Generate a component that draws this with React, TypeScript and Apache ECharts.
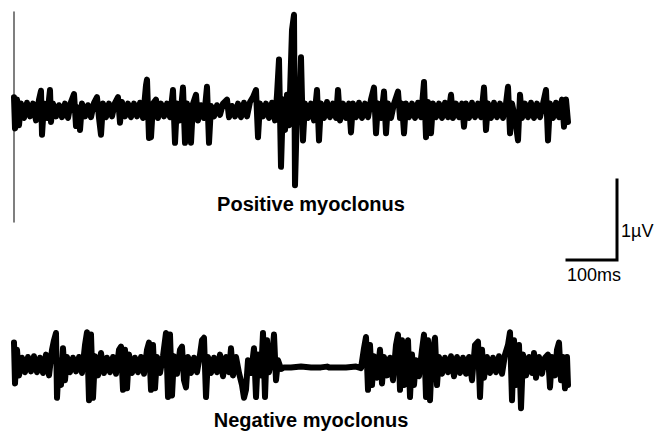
import React, { useEffect, useRef } from "react";
import * as echarts from "echarts";

// Positive myoclonus trace: time (ms) and amplitude (µV)
const positiveTime = [
  0, 2, 6, 10, 14, 20, 26, 32, 38, 44, 50, 54, 56, 60, 66, 72, 74, 78, 84, 90, 96, 102, 108, 114, 120, 124, 128, 132, 136, 142, 148, 154, 160, 166, 170, 174, 178, 184, 190, 196, 202, 208, 212, 216, 222, 228, 234, 240, 246, 252, 258, 264, 266, 270, 274, 278, 284, 288, 294, 300, 306, 312, 318, 322, 326, 332, 338, 342, 346, 350, 354, 358, 364, 368, 374, 380, 386, 390, 394, 400, 406, 412, 418, 426, 430, 436, 442, 448, 454, 460, 466, 472, 478, 484, 488, 492, 498, 504, 510, 516, 522, 526, 530, 534, 538, 542, 546, 550, 556, 560, 562, 566, 570, 574, 578, 582, 588, 594, 600, 606, 610, 614, 620, 626, 632, 638, 644, 648, 652, 658, 664, 670, 674, 678, 684, 690, 696, 702, 708, 714, 720, 724, 728, 734, 740, 744, 748, 754, 760, 768, 772, 776, 780, 784, 790, 796, 802, 808, 814, 820, 824, 828, 834, 838, 844, 850, 856, 862, 868, 874, 878, 884, 890, 896, 900, 904, 910, 916, 922, 928, 934, 940, 944, 948, 954, 960, 966, 972, 978, 984, 988, 992, 996, 1002, 1008, 1012, 1016, 1022, 1028, 1034, 1040, 1046, 1052, 1058, 1064, 1068, 1072, 1078, 1084, 1090, 1096, 1100, 1104, 1108,
];
const positiveAmp = [
  0.16, -0.23, 0.13, -0.19, 0.08, -0.1, 0.09, -0.08, 0.08, -0.13, 0.13, 0.24, -0.31, 0.08, -0.1, 0.25, -0.15, 0.08, -0.08, 0.06, -0.09, 0.08, -0.1, 0.1, 0.2, -0.2, 0.03, -0.25, 0.08, -0.08, 0.06, -0.09, 0.09, 0.16, -0.1, -0.31, 0.08, -0.09, 0.08, -0.08, 0.09, 0.16, -0.16, 0.1, -0.08, 0.08, -0.09, 0.08, -0.08, 0.09, -0.1, 0.31, 0.38, -0.35, -0.34, 0.08, 0.13, -0.1, 0.08, -0.08, 0.08, -0.09, 0.25, -0.41, 0.08, -0.13, 0.28, -0.41, 0.08, -0.1, -0.41, 0.08, 0.19, -0.13, 0.06, -0.1, 0.29, -0.41, 0.05, -0.08, 0.06, -0.06, 0.08, 0.13, -0.09, 0.05, -0.08, 0.08, -0.09, 0.09, -0.08, 0.1, 0.16, 0.25, -0.34, 0.08, -0.08, 0.08, -0.1, 0.09, -0.13, 0.19, 0.63, -0.71, 0.13, -0.25, 0.19, -0.19, 1.0, 1.19, -0.94, 0, -0.13, 0.66, -0.38, 0.08, -0.1, 0.08, -0.13, 0.25, -0.38, 0.08, -0.1, 0.1, -0.09, 0.08, -0.1, 0.25, -0.13, 0.08, -0.1, 0.08, -0.28, 0.08, -0.09, 0.09, -0.1, 0.08, -0.09, 0.13, 0.28, -0.29, 0.08, -0.1, 0.23, -0.29, 0.08, -0.1, 0.08, 0.23, -0.1, 0.08, -0.29, 0.08, -0.09, 0.08, -0.1, 0.09, -0.09, 0.35, -0.34, 0.1, -0.29, 0.08, -0.09, 0.08, -0.1, 0.09, -0.09, 0.19, -0.1, 0.08, -0.09, 0.08, -0.21, 0.08, -0.1, 0.09, -0.09, 0.08, -0.09, 0.28, -0.25, 0.08, -0.1, 0.09, -0.09, 0.08, -0.1, 0.08, 0.29, -0.29, 0.08, -0.1, -0.38, 0.19, -0.1, 0.08, -0.09, 0.09, -0.1, 0.08, -0.09, 0.08, 0.25, -0.38, 0.08, -0.1, 0.09, -0.09, 0.13, -0.21, 0.13, -0.15,
];

// Negative myoclonus trace: time (ms) and amplitude (µV)
const negativeTime = [
  0, 2, 6, 10, 16, 22, 28, 34, 40, 46, 52, 58, 64, 70, 76, 80, 84, 86, 90, 94, 98, 102, 106, 112, 118, 124, 130, 136, 142, 146, 150, 154, 158, 162, 168, 174, 180, 186, 192, 198, 204, 210, 214, 218, 222, 226, 230, 236, 242, 248, 254, 260, 266, 270, 274, 278, 282, 286, 292, 298, 304, 308, 312, 316, 320, 326, 332, 336, 340, 344, 348, 354, 360, 366, 372, 376, 380, 384, 388, 394, 400, 406, 412, 418, 424, 430, 434, 438, 444, 450, 456, 460, 464, 468, 474, 480, 484, 488, 494, 498, 502, 506, 510, 516, 520, 524, 528, 534, 540, 554, 574, 594, 614, 626, 630, 644, 664, 684, 694, 700, 704, 708, 712, 716, 720, 726, 732, 736, 740, 746, 752, 758, 764, 768, 772, 776, 780, 784, 788, 792, 796, 800, 804, 810, 816, 820, 824, 828, 832, 836, 842, 846, 850, 856, 862, 868, 874, 880, 886, 892, 898, 904, 910, 916, 922, 928, 932, 936, 940, 946, 952, 958, 964, 970, 976, 982, 988, 992, 996, 1000, 1004, 1010, 1014, 1018, 1024, 1030, 1036, 1040, 1044, 1050, 1056, 1062, 1068, 1072, 1076, 1082, 1086, 1090, 1094, 1098, 1102, 1106, 1108,
];
const negativeAmp = [
  0.28, -0.23, 0.19, -0.13, 0.09, -0.09, 0.1, -0.08, 0.11, -0.09, 0.09, -0.1, 0.13, -0.13, 0.19, 0.31, 0.4, -0.41, 0.06, -0.25, 0.21, -0.19, 0.1, -0.09, 0.09, -0.08, 0.1, -0.1, 0.25, 0.41, -0.44, 0.38, -0.41, 0.11, -0.13, 0.15, -0.1, 0.09, -0.09, 0.1, -0.11, 0.19, 0.23, -0.31, 0.19, -0.29, 0.13, -0.1, 0.09, -0.09, 0.1, -0.11, 0.19, 0.28, -0.31, 0.25, -0.29, 0.1, -0.1, 0.11, 0.4, -0.4, 0.38, -0.38, 0.11, -0.11, 0.19, 0.23, -0.19, -0.28, 0.1, -0.1, 0.09, -0.09, 0.13, 0.31, 0.34, -0.4, 0.1, -0.1, 0.09, -0.09, 0.13, -0.14, 0.1, -0.09, 0.21, -0.13, 0.1, -0.1, -0.25, -0.41, -0.31, 0.06, -0.1, 0.21, -0.4, 0.13, -0.13, 0.4, -0.4, 0.31, -0.09, 0.1, 0.38, -0.19, 0.06, -0.05, -0.03, -0.03, -0.02, -0.03, -0.03, -0.02, -0.03, -0.03, -0.03, -0.02, -0.04, 0.21, 0.35, -0.31, 0.25, -0.25, 0.11, -0.16, 0.19, -0.23, 0.1, -0.13, 0.09, -0.19, 0.25, 0.38, -0.31, 0.31, -0.25, 0.16, 0.31, -0.4, 0.13, -0.25, 0.06, -0.14, 0.19, 0.38, -0.4, 0.31, -0.44, 0.13, 0.34, -0.25, 0.1, -0.11, 0.09, -0.09, 0.11, -0.14, 0.1, -0.1, 0.09, -0.11, 0.1, -0.19, 0.25, 0.29, -0.4, 0.19, -0.16, 0.1, -0.1, 0.09, -0.09, 0.11, -0.11, 0.13, 0.25, 0.41, -0.44, 0.31, -0.25, 0.25, -0.54, 0.13, -0.13, 0.1, -0.1, 0.15, -0.16, 0.1, -0.11, 0.09, 0.13, -0.28, 0.1, -0.13, 0.19, 0.28, -0.19, 0.1, -0.29, 0.1, -0.25,
];

// Calibration bar: 100 ms horizontally, 1 µV vertically
const scaleTime = [0, 100, 100];
const scaleAmp = [0, 0, 1];

const titles = ["Positive myoclonus", "Negative myoclonus"];
const scaleLabels = ["1µV", "100ms"];

const pairs = (xs: number[], ys: number[]) => xs.map((x, i) => [x, ys[i]]);

const FONT = "'Liberation Sans', Arial, sans-serif";

export default function App() {
  const ref = useRef<HTMLDivElement>(null);
  useEffect(() => {
    document.body.style.margin = "0";
    if (!ref.current) return;
    const chart = echarts.init(ref.current, undefined, { renderer: "svg" });
    const hiddenAxis = {
      show: true,
      axisLine: { show: false },
      axisTick: { show: false },
      axisLabel: { show: false },
      splitLine: { show: false },
    };
    const traceStyle = {
      color: "#000",
      width: 6,
      cap: "round" as const,
      join: "round" as const,
    };
    chart.setOption({
      animation: false,
      backgroundColor: "#fff",
      grid: [
        { left: 14, top: 12, width: 554, height: 210 },
        { left: 14, top: 300, width: 554, height: 130 },
        { left: 567, top: 180, width: 50, height: 80 },
      ],
      xAxis: [
        { type: "value", gridIndex: 0, min: 0, max: 1108, ...hiddenAxis },
        { type: "value", gridIndex: 1, min: 0, max: 1108, ...hiddenAxis },
        { type: "value", gridIndex: 2, min: 0, max: 100, ...hiddenAxis },
      ],
      yAxis: [
        {
          type: "value",
          gridIndex: 0,
          min: -1.4,
          max: 1.225,
          ...hiddenAxis,
          axisLine: { show: true, lineStyle: { color: "#555", width: 1.5 } },
        },
        { type: "value", gridIndex: 1, min: -0.8125, max: 0.8125, ...hiddenAxis },
        { type: "value", gridIndex: 2, min: 0, max: 1, ...hiddenAxis },
      ],
      series: [
        {
          type: "line",
          xAxisIndex: 0,
          yAxisIndex: 0,
          data: pairs(positiveTime, positiveAmp),
          showSymbol: false,
          clip: false,
          lineStyle: traceStyle,
        },
        {
          type: "line",
          xAxisIndex: 1,
          yAxisIndex: 1,
          data: pairs(negativeTime, negativeAmp),
          showSymbol: false,
          clip: false,
          lineStyle: traceStyle,
        },
        {
          type: "line",
          xAxisIndex: 2,
          yAxisIndex: 2,
          data: pairs(scaleTime, scaleAmp),
          showSymbol: false,
          clip: false,
          lineStyle: { color: "#000", width: 3, cap: "square", join: "miter" },
        },
      ],
      graphic: [
        {
          type: "text",
          x: 311,
          y: 204,
          style: {
            text: titles[0],
            font: `bold 20px ${FONT}`,
            fill: "#000",
            align: "center",
            verticalAlign: "middle",
          },
        },
        {
          type: "text",
          x: 311,
          y: 420,
          style: {
            text: titles[1],
            font: `bold 20px ${FONT}`,
            fill: "#000",
            align: "center",
            verticalAlign: "middle",
          },
        },
        {
          type: "text",
          x: 621,
          y: 231,
          style: {
            text: scaleLabels[0],
            font: `18px ${FONT}`,
            fill: "#000",
            align: "left",
            verticalAlign: "middle",
          },
        },
        {
          type: "text",
          x: 594,
          y: 275,
          style: {
            text: scaleLabels[1],
            font: `18px ${FONT}`,
            fill: "#000",
            align: "center",
            verticalAlign: "middle",
          },
        },
      ],
    });
    return () => chart.dispose();
  }, []);
  return <div ref={ref} style={{ width: 657, height: 432 }} />;
}
